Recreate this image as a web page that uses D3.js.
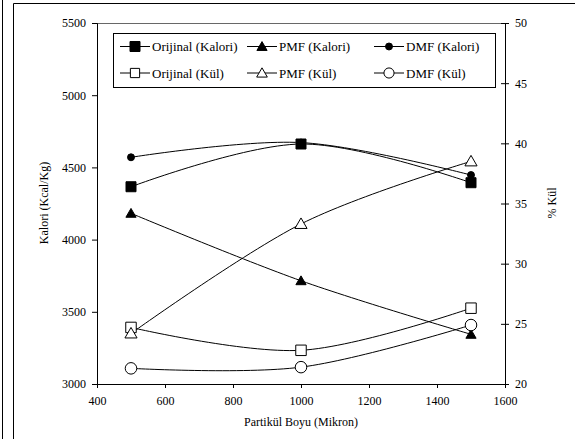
<!DOCTYPE html>
<html><head><meta charset="utf-8">
<script src="https://cdn.jsdelivr.net/npm/d3@7"></script>
<style>body{margin:0;background:#fff;} svg{display:block;} svg text{font-family:"Liberation Serif","DejaVu Serif",serif;}</style>
</head><body>
<svg id="c" width="575" height="439"></svg>
<script>
const sizes = [500, 1000, 1500];
const orijinalKalori = [4366, 4662, 4394];
const pmfKalori = [4182, 3715, 3344];
const dmfKalori = [4570, 4672, 4447];
const orijinalKul = [24.7, 22.8, 26.3];
const pmfKul = [24.2, 33.3, 38.5];
const dmfKul = [21.3, 21.4, 24.9];
const xTicks = [400, 600, 800, 1000, 1200, 1400, 1600];
const leftTicks = [3000, 3500, 4000, 4500, 5000, 5500];
const rightTicks = [20, 25, 30, 35, 40, 45, 50];
const legendLabels = ["Orijinal (Kalori)", "PMF (Kalori)", "DMF (Kalori)", "Orijinal (Kül)", "PMF (Kül)", "DMF (Kül)"];

const svg = d3.select("#c");
const L = 97, R = 505, T = 23, B = 384;
const x = d3.scaleLinear().domain([400, 1600]).range([L, R]);
const yL = d3.scaleLinear().domain([3000, 5500]).range([B, T]);
const yR = d3.scaleLinear().domain([20, 50]).range([B, T]);

svg.append("line").attr("x1", 2.5).attr("x2", 2.5).attr("y1", 0).attr("y2", 439).attr("stroke", "#000").attr("stroke-width", 1);
svg.append("path").attr("d", `M13.5,439V3.5H575`).attr("fill", "none").attr("stroke", "#000").attr("stroke-width", 1);

const gx = svg.append("g").attr("transform", `translate(0,${B})`)
  .call(d3.axisBottom(x).tickValues(xTicks).tickSize(4).tickPadding(8).tickFormat(d3.format("d")));
const gl = svg.append("g").attr("transform", `translate(${L},0)`)
  .call(d3.axisLeft(yL).tickValues(leftTicks).tickSize(5).tickPadding(6).tickFormat(d3.format("d")));
const gr = svg.append("g").attr("transform", `translate(${R},0)`)
  .call(d3.axisRight(yR).tickValues(rightTicks).tickSize(4).tickPadding(6).tickFormat(d3.format("d")));
gr.selectAll(".tick line").attr("x1", -4);
[gx, gl, gr].forEach(g => {
  g.attr("font-family", null);
  g.selectAll("path.domain").attr("stroke", "#000");
  g.selectAll(".tick line").attr("stroke", "#000");
  g.selectAll("text").style("font-family", '"Liberation Serif", serif').attr("font-size", 12).attr("fill", "#000");
});
gx.select("path.domain").remove();
svg.append("line").attr("x1", L).attr("x2", R).attr("y1", B + 0.5).attr("y2", B + 0.5).attr("stroke", "#000");
svg.append("line").attr("x1", L).attr("x2", R).attr("y1", T + 0.5).attr("y2", T + 0.5).attr("stroke", "#000").attr("stroke-width", 0.6);

svg.append("text").attr("x", 301).attr("y", 426).attr("text-anchor", "middle")
  .attr("font-size", 12).text("Partikül Boyu (Mikron)");
svg.append("text").attr("transform", "translate(48,203) rotate(-90)").attr("text-anchor", "middle")
  .attr("font-size", 12).text("Kalori (Kcal/Kg)");
svg.append("text").attr("transform", "translate(556,203) rotate(-90)").attr("text-anchor", "middle")
  .attr("font-size", 12).text("% Kül");

const curve = d3.curveCardinal.tension(0);
const series = [
  {vals: orijinalKalori, y: yL, m: "square", fill: true},
  {vals: pmfKalori, y: yL, m: "triangle", fill: true},
  {vals: dmfKalori, y: yL, m: "circle", fill: true},
  {vals: orijinalKul, y: yR, m: "square", fill: false},
  {vals: pmfKul, y: yR, m: "triangle", fill: false},
  {vals: dmfKul, y: yR, m: "circle", fill: false},
];
function marker(g, type, fill, cx, cy, scale) {
  let size;
  if (type === "square") size = 100;
  else if (type === "triangle") size = fill ? 45 : 58;
  else size = fill ? 38 : 95;
  if (!fill) size *= scale;
  const sym = {square: d3.symbolSquare, triangle: d3.symbolTriangle, circle: d3.symbolCircle}[type];
  g.append("path").attr("d", d3.symbol().type(sym).size(size)())
    .attr("transform", `translate(${cx},${cy + (type === "triangle" ? 1 : 0)})`)
    .attr("fill", fill ? "#000" : "#fff").attr("stroke", "#000").attr("stroke-width", 1);
}
const lineG = svg.append("g");
const markG = svg.append("g");
series.forEach(s => {
  const pts = sizes.map((d, i) => [x(d), s.y(s.vals[i])]);
  lineG.append("path").attr("d", d3.line().curve(curve)(pts)).attr("fill", "none").attr("stroke", "#000").attr("stroke-width", 1);
});
series.forEach(s => {
  sizes.forEach((d, i) => marker(markG, s.m, s.fill, x(d), s.y(s.vals[i]), 1.1));
});

const lg = svg.append("g");
lg.append("rect").attr("x", 113.5).attr("y", 33.5).attr("width", 382).attr("height", 54)
  .attr("fill", "#fff").attr("stroke", "#000");
const colX = [120, 247, 374];
const rowY = [46.5, 73];
series.forEach((s, i) => {
  const cx = colX[i % 3], cy = rowY[Math.floor(i / 3)];
  lg.append("line").attr("x1", cx).attr("x2", cx + 30).attr("y1", cy).attr("y2", cy).attr("stroke", "#000");
  marker(lg, s.m, s.fill, cx + 15, cy, 0.85);
  lg.append("text").attr("x", cx + 32).attr("y", cy + 4.5).attr("font-size", 13).text(legendLabels[i]);
});
</script>
</body></html>
